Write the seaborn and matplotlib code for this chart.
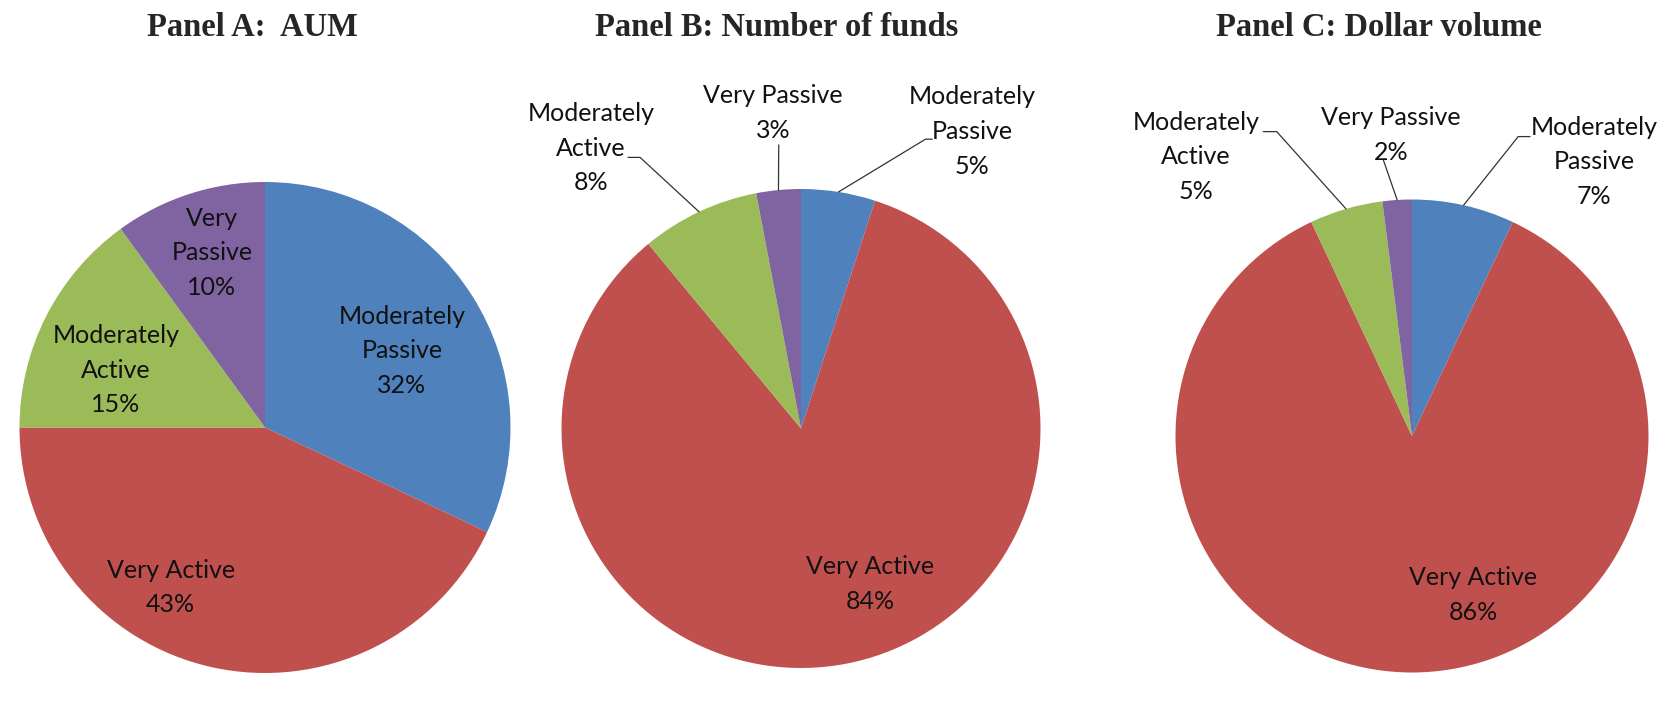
"""
Three pie charts: share of fund categories by AUM, number of funds and dollar volume.
"""

import numpy as np
import matplotlib.pyplot as plt
import seaborn as sns

# Data (clockwise from 12 o'clock)
categories = ['Moderately Passive', 'Very Active', 'Moderately Active', 'Very Passive']
aum = [32, 43, 15, 10]
num_funds = [5, 84, 8, 3]
dollar_volume = [7, 86, 5, 2]
titles = ['Panel A:  AUM', 'Panel B: Number of funds', 'Panel C: Dollar volume']

# label wrapping per panel
wrap_a = ['Moderately\nPassive', 'Very Active', 'Moderately\nActive', 'Very\nPassive']
wrap_bc = ['Moderately\nPassive', 'Very Active', 'Moderately\nActive', 'Very Passive']

colors = ['#4F81BD', '#C0504D', '#9BBB59', '#8064A2']

sns.set_theme(style='white')
plt.rcParams['font.family'] = ['Lato', 'DejaVu Sans']

W, H = 1674, 702
fig = plt.figure(figsize=(W / 100, H / 100), dpi=100)

# pie geometry in pixels: centre x, centre y (from top), radius
geom = [(265, 427.5, 245.5), (801, 428.5, 239.5), (1412, 436, 236.5)]
title_x = [252, 777, 1379]

# label positions in units of radius (relative to centre)
label_pos = [
    [(0.558, 0.312), (-0.384, -0.652), (-0.607, 0.234), (-0.216, 0.711)],
    [(0.715, 1.240), (0.288, -0.649), (-0.877, 1.171), (-0.117, 1.317)],
    [(0.770, 1.159), (0.258, -0.671), (-0.913, 1.180), (-0.089, 1.273)],
]
# leader lines: (elbow, tick end) for outside labels, None when inside
leaders = [
    [None, None, None, None],
    [((0.520, 1.208), (0.548, 1.208)), None,
     ((-0.672, 1.132), (-0.722, 1.132)), ((-0.093, 1.184), None)],
    [((0.449, 1.266), (0.499, 1.266)), None,
     ((-0.572, 1.287), (-0.629, 1.287)), ((-0.121, 1.167), None)],
]

panels = [aum, num_funds, dollar_volume]
wraps = [wrap_a, wrap_bc, wrap_bc]

for i, (values, (cx, cy, r)) in enumerate(zip(panels, geom)):
    ax = fig.add_axes([(cx - r) / W, (H - cy - r) / H, 2 * r / W, 2 * r / H])
    wedges, _ = ax.pie(values, colors=colors, startangle=90, counterclock=False,
                       radius=1, wedgeprops={'linewidth': 0})
    ax.set_xlim(-1, 1)
    ax.set_ylim(-1, 1)
    ax.axis('off')

    for j, w in enumerate(wedges):
        lx, ly = label_pos[i][j]
        ax.text(lx, ly, f'{wraps[i][j]}\n{values[j]}%', ha='center', va='center',
                fontsize=18, linespacing=1.62, color='#111111', clip_on=False)
        ld = leaders[i][j]
        if ld is not None:
            mid = np.deg2rad((w.theta1 + w.theta2) / 2)
            xs = [np.cos(mid), ld[0][0]]
            ys = [np.sin(mid), ld[0][1]]
            if ld[1] is not None:
                xs.append(ld[1][0])
                ys.append(ld[1][1])
            ax.plot(xs, ys, color='#333333', lw=0.9, clip_on=False)

    fig.text(title_x[i] / W, 1 - 27 / H, titles[i], ha='center', va='center',
             fontsize=23.5, fontweight='bold', family='Liberation Serif')

plt.savefig('out.png', dpi=100)
plt.close()
